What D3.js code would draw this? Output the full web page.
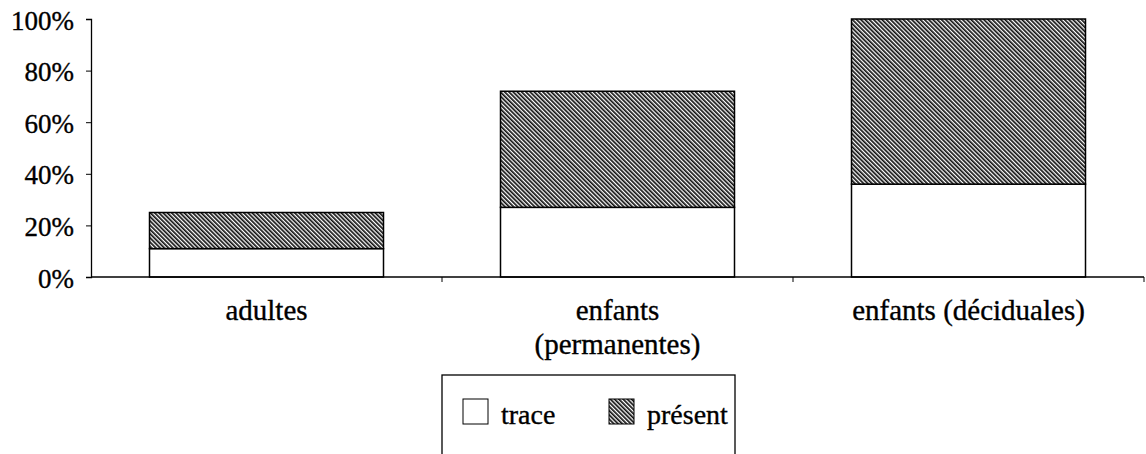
<!DOCTYPE html>
<html>
<head>
<meta charset="utf-8">
<script src="https://cdn.jsdelivr.net/npm/d3@7"></script>
<style>
  html, body { margin: 0; padding: 0; background: #fff; }
  svg { display: block; }
  text { font-family: "Liberation Serif", "Times New Roman", serif; fill: #000; stroke: #000; stroke-width: 0.35px; }
</style>
</head>
<body>
<svg id="chart" width="1146" height="454"></svg>
<script>
// Share of teeth per group, stacked: "trace" at the bottom, "présent" on top
const categories = ["adultes", "enfants (permanentes)", "enfants (déciduales)"];
const categoryLines = [["adultes"], ["enfants", "(permanentes)"], ["enfants (déciduales)"]];
const traceValues = [11, 27, 36];
const presentValues = [14, 45, 64];
const seriesNames = ["trace", "présent"];
const yTicks = [0, 20, 40, 60, 80, 100];

const FONT = '"Liberation Serif", "Times New Roman", serif';
const svg = d3.select("#chart");
const margin = { left: 91, right: 2, top: 19, bottom: 177 };
const W = 1146, H = 454;
const plotBottom = H - margin.bottom;

// Fine diagonal hatch used for the "présent" segments
const defs = svg.append("defs");
const pat = defs.append("pattern")
  .attr("id", "hatch")
  .attr("patternUnits", "userSpaceOnUse")
  .attr("width", 3).attr("height", 3)
  .attr("patternTransform", "rotate(-45)");
pat.append("rect").attr("width", 3).attr("height", 3).attr("fill", "#fff");
pat.append("rect").attr("x", 0).attr("y", 0).attr("width", 1.7).attr("height", 3).attr("fill", "#111");

const x = d3.scaleBand()
  .domain(categories)
  .range([margin.left, W - margin.right])
  .paddingInner(1 / 3)
  .paddingOuter(1 / 6);

const y = d3.scaleLinear().domain([0, 100]).range([plotBottom, margin.top]);

const rows = categories.map((c, i) => ({ cat: c, trace: traceValues[i], "présent": presentValues[i] }));
const stack = d3.stack().keys(seriesNames)(rows);

const fills = { "trace": "#fff", "présent": "url(#hatch)" };

svg.append("g").selectAll("g")
  .data(stack)
  .join("g")
  .attr("fill", d => fills[d.key])
  .selectAll("rect")
  .data(d => d)
  .join("rect")
  .attr("x", d => x(d.data.cat))
  .attr("width", x.bandwidth())
  .attr("y", d => y(d[1]))
  .attr("height", d => y(d[0]) - y(d[1]))
  .attr("stroke", "#000")
  .attr("stroke-width", 1.5);

// Y axis
const yAxis = svg.append("g")
  .attr("transform", `translate(${margin.left},0)`)
  .call(d3.axisLeft(y).tickValues(yTicks).tickFormat(d => d + "%").tickSize(5).tickPadding(12));
yAxis.attr("font-family", null).attr("font-size", null);
yAxis.selectAll("text")
  .style("font-family", FONT)
  .style("font-size", "27px")
  .attr("dy", "10px");
yAxis.select(".domain").attr("stroke", "#000").attr("stroke-width", 1.3);
yAxis.selectAll(".tick line").attr("stroke", "#000");

// X axis with ticks between categories
const xAxisG = svg.append("g").attr("transform", `translate(0,${plotBottom})`);
xAxisG.append("line")
  .attr("x1", margin.left).attr("x2", W - margin.right)
  .attr("stroke", "#000").attr("stroke-width", 1.3);
const step = x.step();
const bounds = d3.range(categories.length + 1).map(i => margin.left + i * step);
xAxisG.selectAll("line.tick")
  .data(bounds.slice(1))
  .join("line")
  .attr("class", "tick")
  .attr("x1", d => d).attr("x2", d => d)
  .attr("y1", 0).attr("y2", 5)
  .attr("stroke", "#000");

// Category labels
svg.append("g").selectAll("text")
  .data(categories)
  .join("text")
  .attr("text-anchor", "middle")
  .style("font-family", FONT)
  .style("font-size", "29px")
  .attr("x", d => x(d) + x.bandwidth() / 2)
  .attr("y", plotBottom + 43)
  .each(function (d, i) {
    d3.select(this).selectAll("tspan")
      .data(categoryLines[i])
      .join("tspan")
      .attr("x", x(d) + x.bandwidth() / 2)
      .attr("dy", (t, j) => j === 0 ? 0 : 34)
      .text(t => t);
  });

// Legend
const legend = svg.append("g").attr("transform", "translate(442,375)");
legend.append("rect")
  .attr("width", 293).attr("height", 90)
  .attr("fill", "#fff").attr("stroke", "#000").attr("stroke-width", 1.3);
const legendX = [21, 167];
const item = legend.selectAll("g.item")
  .data(seriesNames)
  .join("g")
  .attr("class", "item")
  .attr("transform", (d, i) => `translate(${legendX[i]},24)`);
item.append("rect")
  .attr("width", 25).attr("height", 25)
  .attr("fill", d => fills[d])
  .attr("stroke", "#000").attr("stroke-width", 1);
item.append("text")
  .attr("x", 38).attr("y", 25)
  .style("font-family", FONT)
  .style("font-size", "28px")
  .text(d => d);
</script>
</body>
</html>
